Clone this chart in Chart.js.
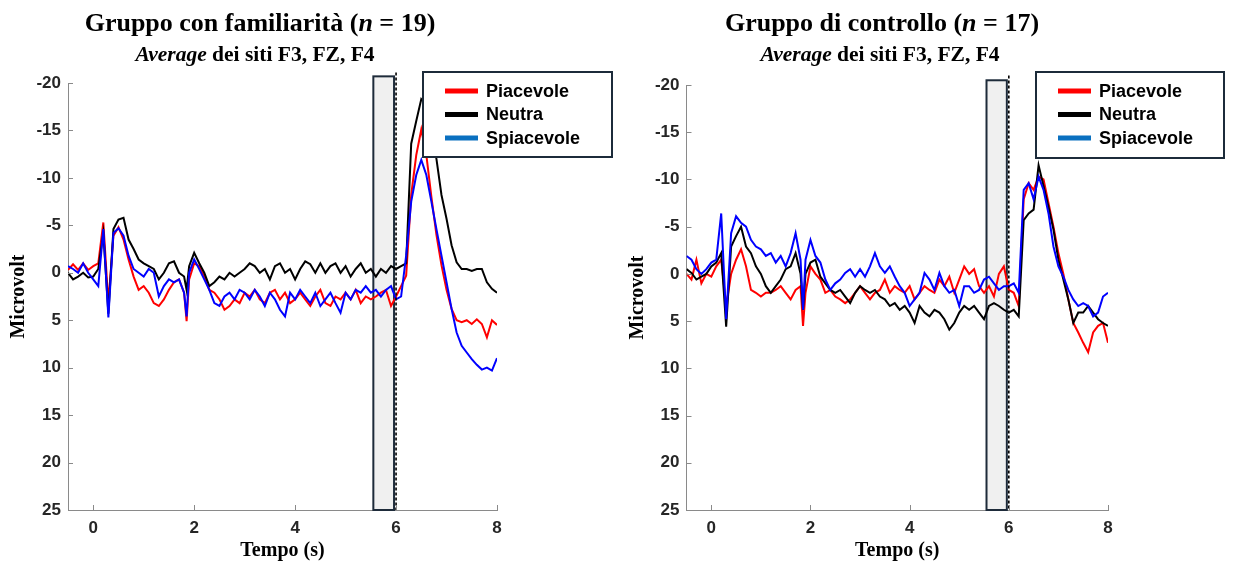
<!DOCTYPE html>
<html>
<head>
<meta charset="utf-8">
<script src="https://cdn.jsdelivr.net/npm/chart.js@4.4.1/dist/chart.umd.min.js"></script>
<style>
  body { margin:0; background:#fff; }
  #wrap { position:relative; width:1234px; height:565px; overflow:hidden; background:#fff; }
  canvas { position:absolute; top:0; }
  .ttl { position:absolute; font-family:"Liberation Serif","Times New Roman",serif; font-weight:bold; color:#000; white-space:nowrap; transform:translateX(-50%); line-height:1; }
  .t1 { font-size:26px; top:10px; }
  .t2 { font-size:21.5px; top:44px; }
</style>
</head>
<body>
<div id="wrap">
  <canvas id="cL" width="617" height="565" style="left:0"></canvas>
  <canvas id="cR" width="617" height="565" style="left:617px"></canvas>
  <div class="ttl t1" style="left:260px">Gruppo con familiarità (<i>n</i> = 19)</div>
  <div class="ttl t2" style="left:255px"><i>Average</i> dei siti F3, FZ, F4</div>
  <div class="ttl t1" style="left:882px">Gruppo di controllo (<i>n</i> = 17)</div>
  <div class="ttl t2" style="left:880px"><i>Average</i> dei siti F3, FZ, F4</div>
</div>
<script>
// ---- data ----
const tempo = [-0.5,-0.4,-0.3,-0.2,-0.1,0.0,0.1,0.2,0.3,0.4,
  0.5,0.6,0.7,0.8,0.9,1.0,1.1,1.2,1.3,1.4,
  1.5,1.6,1.7,1.8,1.85,1.9,2.0,2.1,2.2,2.3,
  2.4,2.5,2.6,2.7,2.8,2.9,3.0,3.1,3.2,3.3,
  3.4,3.5,3.6,3.7,3.8,3.9,4.0,4.1,4.2,4.3,
  4.4,4.5,4.6,4.7,4.8,4.9,5.0,5.1,5.2,5.3,
  5.4,5.5,5.6,5.7,5.8,5.9,6.0,6.1,6.2,6.3,
  6.4,6.5,6.6,6.7,6.8,6.9,7.0,7.1,7.2,7.3,
  7.4,7.5,7.6,7.7,7.8,7.9,8.0];

const seriesNames = ['Piacevole','Neutra','Spiacevole'];
const xTicks = [0,2,4,6,8];
const yTicks = [-20,-15,-10,-5,0,5,10,15,20,25];

// Gruppo con familiarità
const famPiacevole = [-0.3,-0.9,-0.3,-1.0,-0.3,-0.7,-1.0,-5.3,3.2,-3.9,
  -4.8,-3.5,-1.4,0.4,1.8,1.4,2.1,3.2,3.5,2.8,
  1.8,1.0,0.7,2.1,5.1,0.7,-1.0,-0.7,0.4,1.8,
  2.1,2.8,3.9,3.5,2.8,3.2,2.1,2.5,1.8,2.8,
  3.2,2.1,1.8,2.8,2.1,3.2,2.8,2.1,2.8,3.5,
  2.5,1.8,3.2,3.5,2.5,2.8,2.1,2.8,1.8,3.2,
  2.5,2.8,2.5,2.1,1.8,3.5,2.5,1.4,0.3,-8.2,
  -12.4,-15.1,-12.4,-8.0,-4.0,-0.8,1.8,3.8,5.0,5.2,
  5.0,5.4,4.9,5.4,6.8,5.0,5.5];
const famNeutra = [0.0,0.7,0.4,0.0,0.5,0.4,-0.4,-4.2,4.3,-4.6,
  -5.6,-5.8,-3.5,-2.5,-1.4,-1.0,-0.7,-0.4,0.7,0.0,
  -1.0,-1.2,0.0,0.4,1.8,-0.7,-2.1,-1.0,0.0,1.4,
  1.0,0.4,0.7,0.0,0.4,0.0,-0.4,-1.0,-0.7,0.0,
  -0.4,0.7,-0.7,-1.0,0.0,-0.4,0.7,-0.4,-1.2,-0.9,
  0.0,-1.0,0.0,-0.7,-1.0,0.0,-0.7,0.4,-0.4,-1.0,
  0.0,-0.4,0.4,-0.4,0.0,-0.7,-0.4,-0.7,-1.0,-13.6,
  -16.0,-18.3,-17.7,-14.5,-12.0,-8.2,-5.7,-2.9,-1.1,-0.4,
  -0.4,-0.2,-0.4,-0.4,1.0,1.7,2.1];
const famSpiacevole = [-0.7,-0.4,0.0,-1.0,0.0,0.7,1.4,-4.6,4.7,-4.2,
  -4.7,-3.9,-1.8,-0.4,0.0,0.4,-0.4,0.0,2.5,1.4,
  0.7,1.0,0.7,2.1,4.6,0.0,-1.4,-0.4,0.7,1.8,
  3.2,3.5,2.5,2.1,2.8,1.8,2.1,2.8,1.8,2.5,
  3.5,2.1,2.8,3.9,4.6,2.1,2.8,1.8,2.5,3.2,
  2.1,3.5,2.8,2.1,3.2,4.2,2.1,2.8,1.8,2.1,
  1.4,2.1,1.8,2.5,1.8,1.4,2.8,2.5,-1.8,-7.5,
  -10.3,-11.9,-10.3,-7.5,-4.6,-1.8,1.0,3.8,6.3,7.7,
  8.4,9.1,9.7,10.2,10.0,10.3,9.0];

// Gruppo di controllo
const ctrlPiacevole = [0.0,0.6,-1.5,1.0,0.0,0.3,-0.8,-1.5,3.4,0.0,
  -1.5,-2.6,-0.8,1.7,2.0,2.4,2.0,2.0,1.7,1.3,
  2.0,2.7,1.7,1.3,5.5,2.0,-0.8,0.0,0.6,2.0,
  1.7,2.4,2.7,3.1,2.7,2.0,1.3,2.0,2.7,2.0,
  1.7,0.6,2.0,1.3,1.7,2.0,1.3,2.7,2.0,1.3,
  1.7,2.0,0.6,1.3,0.3,2.0,0.6,-0.8,0.0,-0.5,
  1.3,2.0,1.3,2.4,0.0,-0.8,1.7,2.0,3.4,-7.9,
  -9.6,-8.9,-10.3,-10.0,-7.5,-5.0,-2.2,0.0,2.7,5.2,
  6.2,7.3,8.3,6.2,5.5,5.2,7.3];
const ctrlNeutra = [-0.5,-0.1,0.6,0.3,0.0,-0.8,-1.2,-2.2,5.6,-2.9,
  -4.0,-5.0,-2.9,-2.2,-0.8,0.0,1.3,2.0,1.3,0.6,
  -0.5,-0.8,-2.2,0.0,3.8,0.0,-1.2,-1.5,0.3,1.0,
  1.7,2.0,1.7,2.4,3.1,2.0,1.3,1.7,2.0,1.7,
  2.4,2.7,3.4,3.1,3.8,3.4,4.1,5.2,3.4,4.1,
  4.5,3.8,4.1,4.8,5.9,5.2,4.1,3.4,3.8,3.4,
  4.1,4.8,3.4,3.1,3.4,3.8,4.1,3.8,4.5,-5.7,
  -6.4,-6.8,-11.5,-9.3,-7.1,-4.7,-1.5,0.6,2.7,5.2,
  4.1,4.1,3.4,4.1,4.8,5.2,5.5];
const ctrlSpiacevole = [-1.9,-1.5,-0.5,0.0,-0.5,-1.2,-1.5,-6.4,4.8,-4.3,
  -6.1,-5.4,-5.0,-3.6,-2.9,-2.6,-1.9,-2.2,-1.2,-1.9,
  -0.8,-2.2,-4.3,-1.5,3.8,-1.5,-3.6,-1.9,-1.2,0.6,
  1.7,1.0,0.6,-0.1,-0.5,0.3,-0.5,0.3,-0.8,-2.2,
  -0.8,-0.1,-0.8,0.3,1.3,2.0,3.4,2.7,2.0,-0.1,
  0.6,1.7,-0.1,1.3,2.0,1.7,3.4,1.3,1.3,2.0,
  1.7,0.6,0.3,1.0,1.7,1.3,1.3,1.0,2.0,-8.9,
  -9.6,-7.9,-10.3,-8.9,-6.4,-2.9,-0.8,0.3,1.7,2.7,
  3.4,3.1,3.4,4.5,4.1,2.4,2.0];

// marker box (seconds) and stimulus line
const boxRange = [5.55, 5.96];
const markerTime = 6;

// ---- styling ----
const lineColors = ['#ff0000','#000000','#0000ff'];
const legendColors = ['#ff0000','#000000','#0a70c0'];
const axisGray = '#8a8a8a';

const decor = {
  id: 'decor',
  beforeDatasetsDraw(chart, args, o) {
    const {ctx, chartArea: a, scales: {x, y}} = chart;
    const l = x.getPixelForValue(boxRange[0]);
    const r = x.getPixelForValue(boxRange[1]);
    const t = y.getPixelForValue(o.boxTop);
    ctx.save();
    ctx.fillStyle = '#f0f0f0';
    ctx.fillRect(l, t, r - l, a.bottom - t);
    ctx.strokeStyle = '#1e2b3a';
    ctx.lineWidth = 2;
    ctx.strokeRect(l, t, r - l, a.bottom - t);
    ctx.restore();
  },
  afterDatasetsDraw(chart, args, o) {
    const {ctx, chartArea: a, scales: {x, y}} = chart;
    ctx.save();
    // stimulus dashed line
    const mx = x.getPixelForValue(markerTime);
    ctx.strokeStyle = '#000';
    ctx.lineWidth = 1.6;
    ctx.setLineDash([3, 2]);
    ctx.beginPath();
    ctx.moveTo(mx, y.getPixelForValue(o.lineTop));
    ctx.lineTo(mx, a.bottom);
    ctx.stroke();
    ctx.setLineDash([]);
    // inward ticks
    ctx.strokeStyle = axisGray;
    ctx.lineWidth = 1;
    ctx.beginPath();
    xTicks.forEach(v => { const px = Math.round(x.getPixelForValue(v)) + 0.5; ctx.moveTo(px, a.bottom); ctx.lineTo(px, a.bottom - 5); });
    yTicks.forEach(v => { const py = Math.round(y.getPixelForValue(v)) + 0.5; ctx.moveTo(a.left, py); ctx.lineTo(a.left + 5, py); });
    ctx.stroke();
    // legend
    const bx = a.right + o.legendDx, by = o.legendTop, bw = o.legendW, bh = o.legendH;
    ctx.fillStyle = '#fff';
    ctx.fillRect(bx, by, bw, bh);
    ctx.strokeStyle = '#1c2b3a';
    ctx.lineWidth = 2;
    ctx.strokeRect(bx, by, bw, bh);
    ctx.font = 'bold 18px "Liberation Sans", Arial, sans-serif';
    ctx.textBaseline = 'middle';
    ctx.textAlign = 'left';
    chart.data.datasets.forEach((ds, i) => {
      const ry = by + 19 + i * 23.5;
      ctx.strokeStyle = legendColors[i];
      ctx.lineWidth = 5;
      ctx.beginPath();
      ctx.moveTo(bx + 22, ry);
      ctx.lineTo(bx + 55, ry);
      ctx.stroke();
      ctx.fillStyle = '#000';
      ctx.fillText(ds.label, bx + 63, ry + 1);
    });
    ctx.restore();
  }
};

function makePanel(id, series, pad, opts) {
  const datasets = series.map((s, i) => ({
    label: seriesNames[i],
    data: tempo.map((t, k) => ({x: t, y: s[k]})),
    borderColor: lineColors[i],
    borderWidth: 2,
    pointRadius: 0,
    tension: 0,
    order: 2 - i
  }));
  const tickFont = {family: '"Liberation Sans", Arial, sans-serif', weight: 'bold', size: 17};
  const titleFont = {family: '"Liberation Serif", "Times New Roman", serif', weight: 'bold', size: 20};
  return new Chart(document.getElementById(id), {
    type: 'line',
    data: {datasets},
    options: {
      responsive: false,
      animation: false,
      layout: {padding: pad},
      plugins: {legend: {display: false}, tooltip: {enabled: false}, decor: opts},
      scales: {
        x: {
          type: 'linear', min: -0.5, max: 8,
          afterFit: s => { s.height = 55; },
          afterBuildTicks: s => { s.ticks = xTicks.map(v => ({value: v})); },
          ticks: {font: tickFont, color: '#262626', padding: 8, maxRotation: 0, autoSkip: false},
          grid: {display: true, drawOnChartArea: false, drawTicks: false},
          border: {display: true, color: axisGray, width: 1},
          title: {display: true, text: 'Tempo (s)', font: titleFont, color: '#000', padding: {top: 0, bottom: 2}}
        },
        y: {
          type: 'linear', min: -20, max: 25, reverse: true,
          afterFit: s => { s.width = 68; },
          afterBuildTicks: s => { s.ticks = yTicks.map(v => ({value: v})); },
          ticks: {font: tickFont, color: '#262626', padding: 7, autoSkip: false, callback: v => String(v)},
          grid: {display: true, drawOnChartArea: false, drawTicks: false},
          border: {display: true, color: axisGray, width: 1},
          title: {display: true, text: 'Microvolt', font: titleFont, color: '#000', padding: {top: 7, bottom: 0}}
        }
      }
    },
    plugins: [decor]
  });
}

makePanel('cL', [famPiacevole, famNeutra, famSpiacevole],
  {left: 0, right: 120, top: 83, bottom: 0},
  {boxTop: -20.7, lineTop: -21.1, legendDx: -74, legendTop: 72, legendW: 189, legendH: 85});
makePanel('cR', [ctrlPiacevole, ctrlNeutra, ctrlSpiacevole],
  {left: 1.5, right: 126, top: 85, bottom: 0},
  {boxTop: -20.5, lineTop: -21.0, legendDx: -72, legendTop: 72, legendW: 188, legendH: 86});
</script>
</body>
</html>
